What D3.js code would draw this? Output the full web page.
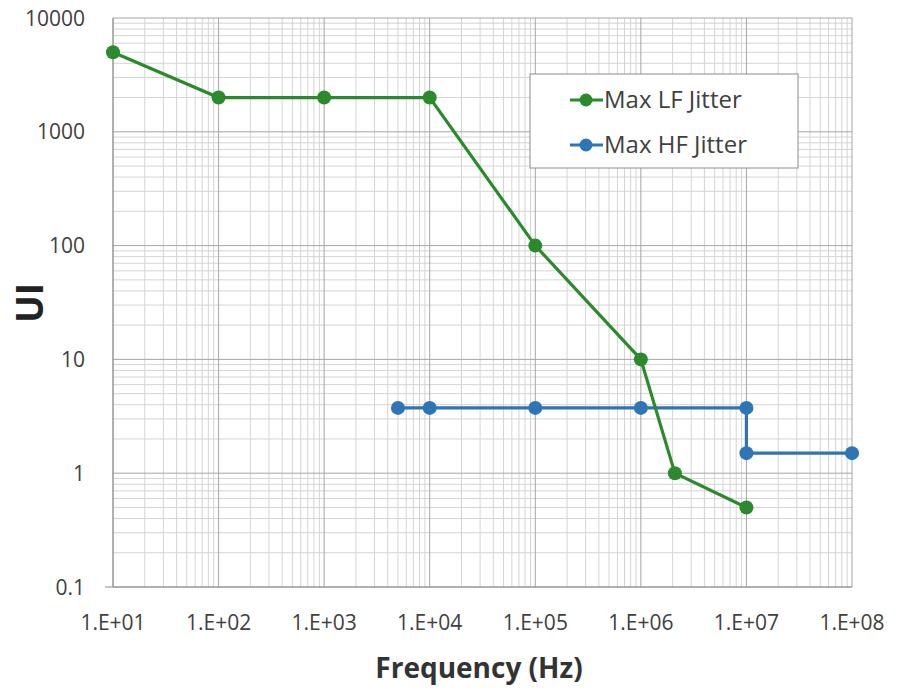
<!DOCTYPE html>
<html><head><meta charset="utf-8">
<script src="https://cdn.jsdelivr.net/npm/d3@7"></script>
<style>body{margin:0;background:#fff}text{font-family:"Open Sans",sans-serif}</style>
</head><body><svg id="c" width="904" height="690"></svg>
<script>
const lfFreq = [10, 100, 1000, 10000, 1e5, 1e6, 2.1e6, 1e7];
const lfUI = [5000, 2000, 2000, 2000, 100, 10, 1, 0.5];
const hfFreq = [5000, 1e4, 1e5, 1e6, 1e7, 1e7, 1e8];
const hfUI = [3.75, 3.75, 3.75, 3.75, 3.75, 1.5, 1.5];
const xTicks = [1e1, 1e2, 1e3, 1e4, 1e5, 1e6, 1e7, 1e8];
const xTickLabels = ["1.E+01","1.E+02","1.E+03","1.E+04","1.E+05","1.E+06","1.E+07","1.E+08"];
const yTicks = [0.1, 1, 10, 100, 1000, 10000];
const yTickLabels = ["0.1","1","10","100","1000","10000"];
const seriesNames = ["Max LF Jitter", "Max HF Jitter"];
const colors = ["#2b8a2b", "#2e75b6"];

const svg = d3.select("#c");
const L = 113, R = 852, T = 18, B = 587;
const x = d3.scaleLog().domain([1e1, 1e8]).range([L, R]);
const y = d3.scaleLog().domain([0.1, 10000]).range([B, T]);

// minor grid
const minorX = [], minorY = [];
for (let e = 1; e < 8; e++) for (let m = 2; m <= 9; m++) minorX.push(m * Math.pow(10, e));
for (let e = -1; e < 4; e++) for (let m = 2; m <= 9; m++) minorY.push(m * Math.pow(10, e));
const g = svg.append("g");
g.selectAll(".mx").data(minorX).join("line")
  .attr("x1", d => x(d)).attr("x2", d => x(d)).attr("y1", T).attr("y2", B)
  .attr("stroke", "#d4d4d4").attr("stroke-width", 1);
g.selectAll(".my").data(minorY).join("line")
  .attr("y1", d => y(d)).attr("y2", d => y(d)).attr("x1", L).attr("x2", R)
  .attr("stroke", "#d4d4d4").attr("stroke-width", 1);
g.selectAll(".Mx").data(xTicks).join("line")
  .attr("x1", d => x(d)).attr("x2", d => x(d)).attr("y1", T).attr("y2", B)
  .attr("stroke", "#a6a6a6").attr("stroke-width", 1);
g.selectAll(".My").data(yTicks).join("line")
  .attr("y1", d => y(d)).attr("y2", d => y(d)).attr("x1", L).attr("x2", R)
  .attr("stroke", "#a6a6a6").attr("stroke-width", 1);
// axis lines
svg.append("line").attr("x1", L - 8).attr("x2", R).attr("y1", B).attr("y2", B).attr("stroke", "#8c8c8c");
svg.append("line").attr("x1", L).attr("x2", L).attr("y1", T).attr("y2", B).attr("stroke", "#8c8c8c");

// tick labels
svg.selectAll(".xl").data(xTicks).join("text")
  .attr("x", d => x(d)).attr("y", B + 43).attr("text-anchor", "middle")
  .attr("font-size", 21).attr("fill", "#404040").text((d, i) => xTickLabels[i]);
svg.selectAll(".yl").data(yTicks).join("text")
  .attr("x", 85).attr("y", d => y(d) + 7.5).attr("text-anchor", "end")
  .attr("font-size", 21).attr("fill", "#404040").text((d, i) => yTickLabels[i]);

// axis titles
svg.append("text").attr("x", 479).attr("y", 678).attr("text-anchor", "middle")
  .attr("font-size", 28).attr("font-weight", "bold").attr("fill", "#333").text("Frequency (Hz)");
svg.append("text").attr("transform", "translate(43,303) rotate(-90)").attr("text-anchor", "middle")
  .attr("font-size", 37).attr("font-weight", "bold").attr("fill", "#222").text("UI");

// series
const series = [
  lfFreq.map((f, i) => [f, lfUI[i]]),
  hfFreq.map((f, i) => [f, hfUI[i]])
];
const line = d3.line().x(d => x(d[0])).y(d => y(d[1]));
[1, 0].forEach(si => {
  svg.append("path").attr("d", line(series[si])).attr("fill", "none")
    .attr("stroke", colors[si]).attr("stroke-width", 3.2);
  svg.selectAll(".p" + si).data(series[si]).join("circle")
    .attr("cx", d => x(d[0])).attr("cy", d => y(d[1])).attr("r", 7)
    .attr("fill", colors[si]);
});

// legend
const lg = svg.append("g");
lg.append("rect").attr("x", 530).attr("y", 74).attr("width", 268).attr("height", 94)
  .attr("fill", "#fff").attr("stroke", "#8c8c8c");
seriesNames.forEach((n, i) => {
  const yy = 100 + i * 45;
  lg.append("line").attr("x1", 570).attr("x2", 603).attr("y1", yy).attr("y2", yy)
    .attr("stroke", colors[i]).attr("stroke-width", 3.2);
  lg.append("circle").attr("cx", 586).attr("cy", yy).attr("r", 6.5).attr("fill", colors[i]);
  lg.append("text").attr("x", 604).attr("y", yy + 8).attr("font-size", 24).attr("fill", "#404040").text(n);
});
</script></body></html>
